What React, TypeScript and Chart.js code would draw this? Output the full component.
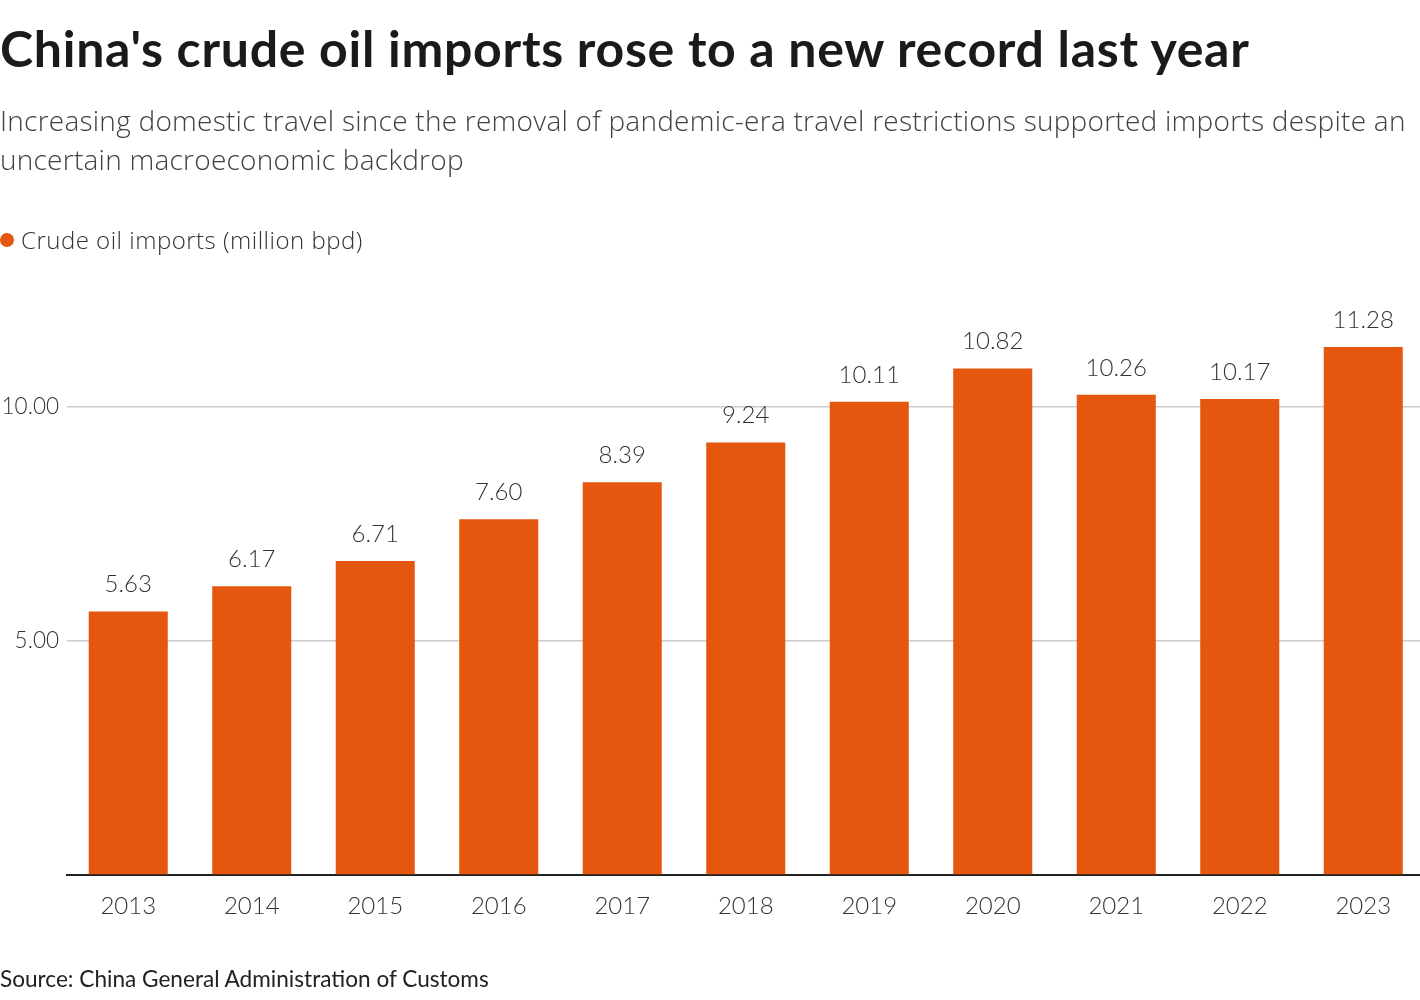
import React, { useEffect, useRef } from "react";
import { Chart, registerables } from "chart.js";

Chart.register(...registerables);

const years = ["2013", "2014", "2015", "2016", "2017", "2018", "2019", "2020", "2021", "2022", "2023"];
const imports = [5.63, 6.17, 6.71, 7.6, 8.39, 9.24, 10.11, 10.82, 10.26, 10.17, 11.28];
const seriesName = "Crude oil imports (million bpd)";
const yTicksShown = [5, 10];

const BAR = "#E5560F";
const FONT = "Lato";
const FONT2 = "'Open Sans'";

const valueLabels = {
  id: "valueLabels",
  afterDatasetsDraw(chart: any) {
    const ctx = chart.ctx;
    const meta = chart.getDatasetMeta(0);
    ctx.save();
    ctx.font = `300 24px ${FONT}`;
    ctx.fillStyle = "#333333";
    ctx.textAlign = "center";
    ctx.textBaseline = "middle";
    meta.data.forEach((el: any, i: number) => {
      const v = chart.data.datasets[0].data[i] as number;
      ctx.fillText(v.toFixed(2), el.x, el.y - 27);
    });
    ctx.restore();
  },
};

export default function App() {
  const ref = useRef<HTMLCanvasElement>(null);
  useEffect(() => {
    let chart: Chart | null = null;
    let cancelled = false;
    const make = () => {
      if (cancelled || !ref.current) return;
      chart = new Chart(ref.current, {
        type: "bar",
        data: {
          labels: years,
          datasets: [
            {
              label: seriesName,
              data: imports,
              backgroundColor: BAR,
              barPercentage: 0.64,
              categoryPercentage: 1,
            },
          ],
        },
        options: {
          responsive: false,
          animation: false,
          layout: { padding: { top: 313.4, left: 0, right: 0, bottom: 0 } },
          plugins: { legend: { display: false }, tooltip: { enabled: false } },
          scales: {
            x: {
              grid: { display: false, drawTicks: false },
              border: { display: true, color: "#222222", width: 2 },
              ticks: {
                padding: 17,
                color: "#333333",
                font: { family: FONT, size: 24, weight: "300" },
                maxRotation: 0,
              },
              afterFit: (s: any) => {
                s.height = 125;
              },
            },
            y: {
              min: 0,
              max: 12,
              border: { display: false },
              grid: {
                drawTicks: false,
                color: (c: any) => (yTicksShown.includes(c.tick?.value) ? "#cccccc" : "rgba(0,0,0,0)"),
                lineWidth: 1.5,
              },
              ticks: {
                stepSize: 5,
                includeBounds: false,
                padding: 7.5,
                color: "#333333",
                font: { family: FONT, size: 22.5, weight: "300" },
                callback: (v: any) => (yTicksShown.includes(Number(v)) ? Number(v).toFixed(2) : ""),
              },
              afterFit: (s: any) => {
                s.width = 66.5;
              },
            },
          },
        },
        plugins: [valueLabels],
      });
    };
    Promise.all([
      document.fonts.load(`300 24px ${FONT}`),
      document.fonts.load(`400 24px ${FONT}`),
      document.fonts.load(`700 48px ${FONT}`),
      document.fonts.load(`300 24px ${FONT2}`),
    ])
      .catch(() => null)
      .then(make);
    return () => {
      cancelled = true;
      if (chart) chart.destroy();
    };
  }, []);

  return (
    <div style={{ position: "absolute", left: 0, top: 0, width: 1420, height: 1000, overflow: "hidden", background: "#fff", fontFamily: FONT }}>
      <canvas ref={ref} width={1425} height={1000} style={{ position: "absolute", left: 0, top: 0 }} />
      <div style={{ position: "absolute", left: 0, top: 23, fontSize: 50, lineHeight: "50px", fontWeight: 700, letterSpacing: 0.72, color: "#1a1a1a", whiteSpace: "nowrap" }}>
        China's crude oil imports rose to a new record last year
      </div>
      <div style={{ position: "absolute", left: 0, top: 101, fontFamily: FONT2, fontSize: 28, lineHeight: "39px", fontWeight: 300, letterSpacing: 0.25, color: "#404040", whiteSpace: "nowrap" }}>
        Increasing domestic travel since the removal of pandemic-era travel restrictions supported imports despite an
        <br />
        uncertain macroeconomic backdrop
      </div>
      <div style={{ position: "absolute", left: 0, top: 227, height: 26, display: "flex", alignItems: "center", fontFamily: FONT2, fontSize: 24, lineHeight: "26px", fontWeight: 300, letterSpacing: 0.5, color: "#333333", whiteSpace: "nowrap" }}>
        <span style={{ display: "inline-block", width: 14, height: 14, borderRadius: "50%", background: BAR, marginRight: 7 }} />
        {seriesName}
      </div>
      <div style={{ position: "absolute", left: 0, top: 968, fontSize: 22.6, lineHeight: "22px", fontWeight: 400, color: "#222222", whiteSpace: "nowrap" }}>
        Source: China General Administration of Customs
      </div>
    </div>
  );
}
